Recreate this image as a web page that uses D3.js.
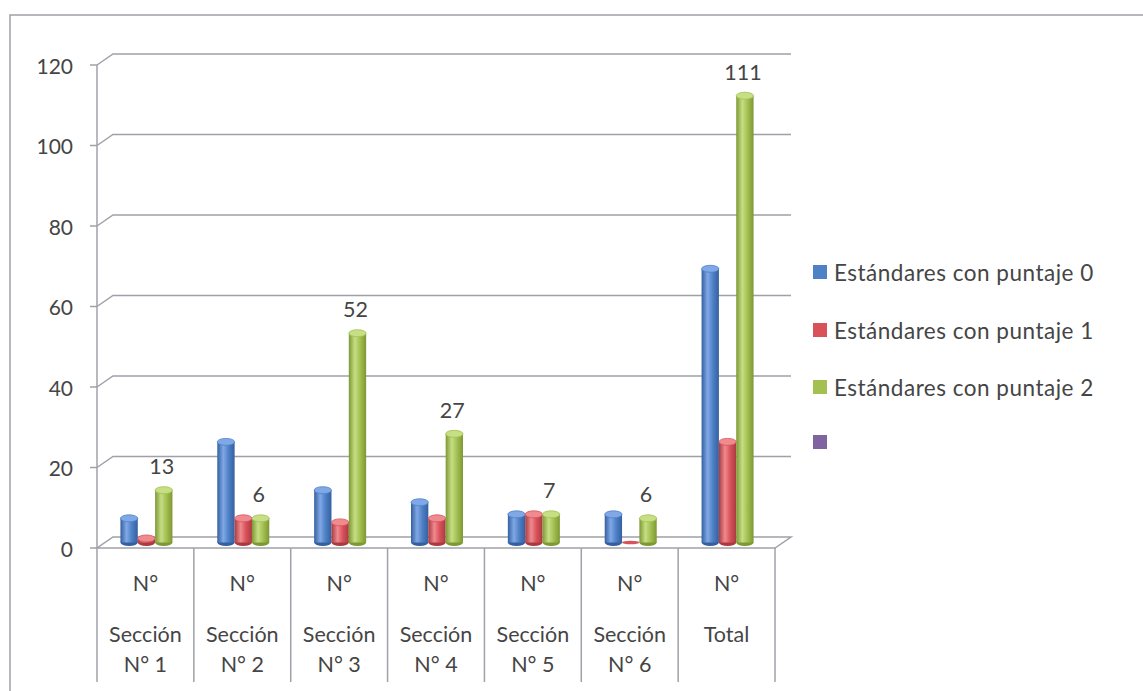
<!DOCTYPE html>
<html>
<head>
<meta charset="utf-8">
<script src="https://cdn.jsdelivr.net/npm/d3@7"></script>
<style>
  html, body { margin: 0; padding: 0; background: #ffffff; }
  svg { display: block; }
  text { font-family: Lato, "Open Sans", sans-serif; fill: #454545; }
</style>
</head>
<body>
<svg id="chart" width="1143" height="691"></svg>
<script>
// ---- data ----
const categories = ["Sección N° 1", "Sección N° 2", "Sección N° 3", "Sección N° 4", "Sección N° 5", "Sección N° 6", "Total"];
const categoryLines = [
  ["N°", "Sección", "N° 1"],
  ["N°", "Sección", "N° 2"],
  ["N°", "Sección", "N° 3"],
  ["N°", "Sección", "N° 4"],
  ["N°", "Sección", "N° 5"],
  ["N°", "Sección", "N° 6"],
  ["N°", "Total"]
];
const seriesNames = ["Estándares con puntaje 0", "Estándares con puntaje 1", "Estándares con puntaje 2", ""];
const puntaje0 = [6, 25, 13, 10, 7, 7, 68];
const puntaje1 = [1, 6, 5, 6, 7, 0, 25];
const puntaje2 = [13, 6, 52, 27, 7, 6, 111];
const dataLabels = [13, 6, 52, 27, 7, 6, 111];
const yTicks = [0, 20, 40, 60, 80, 100, 120];

const seriesValues = [puntaje0, puntaje1, puntaje2];
const colors = ["#4f81c6", "#d9525a", "#a3c051", "#8064a2"];
const colorsDark = ["#34609f", "#a93a40", "#7d9834"];
const colorsLight = ["#80a8e6", "#ef8a8f", "#c6de84"];

// ---- layout ----
const svg = d3.select("#chart");
const x0 = 97, x1 = 775;
const depthX = 16, depthY = -11;
const y = d3.scaleLinear().domain([0, 120]).range([548, 65]);
const xCat = d3.scaleBand().domain(categories).range([x0, x1]).padding(0);
const xSer = d3.scaleBand().domain([0, 1, 2]).range([0, 52]).padding(0);

// gradients
const defs = svg.append("defs");
[0, 1, 2].forEach(i => {
  const g = defs.append("linearGradient").attr("id", "grad" + i)
    .attr("x1", "0%").attr("x2", "100%").attr("y1", "0%").attr("y2", "0%");
  g.append("stop").attr("offset", "0%").attr("stop-color", colorsDark[i]);
  g.append("stop").attr("offset", "35%").attr("stop-color", colorsLight[i]);
  g.append("stop").attr("offset", "65%").attr("stop-color", colors[i]);
  g.append("stop").attr("offset", "100%").attr("stop-color", colorsDark[i]);
});

// outer frame
svg.append("path").attr("d", "M10,691 L10,15 L1143,15")
  .attr("fill", "none").attr("stroke", "#a0a0a8").attr("stroke-width", 1.5);

const grid = svg.append("g");
// floor
grid.append("path")
  .attr("d", `M${x0},${y(0)} L${x1},${y(0)} L${x1 + depthX},${y(0) + depthY} L${x0 + depthX},${y(0) + depthY} Z`)
  .attr("fill", "#ffffff").attr("stroke", "#a0a0a8").attr("stroke-width", 1.5);

// gridlines on back wall (with diagonal from axis)
yTicks.filter(t => t > 0).forEach(t => {
  grid.append("path")
    .attr("d", `M${x0},${y(t)} L${x0 + depthX},${y(t) + depthY} L${x1 + depthX},${y(t) + depthY}`)
    .attr("fill", "none").attr("stroke", "#a0a0a8").attr("stroke-width", 1.5);
});

// y axis line + ticks
grid.append("line").attr("x1", x0).attr("x2", x0).attr("y1", y(120)).attr("y2", 682)
  .attr("stroke", "#a0a0a8").attr("stroke-width", 1.5);
yTicks.forEach(t => {
  grid.append("line").attr("x1", x0 - 7).attr("x2", x0).attr("y1", y(t)).attr("y2", y(t))
    .attr("stroke", "#a0a0a8").attr("stroke-width", 1.5);
  svg.append("text").attr("x", 73).attr("y", y(t)).attr("text-anchor", "end")
    .attr("dominant-baseline", "central").attr("font-size", 21).text(t);
});

// category dividers
categories.forEach((c, i) => {
  const xr = xCat(c) + xCat.bandwidth();
  grid.append("line").attr("x1", xr).attr("x2", xr).attr("y1", y(0)).attr("y2", 682)
    .attr("stroke", "#a0a0a8").attr("stroke-width", 1.5);
});

// category labels
const lineY = [583, 634, 664];
categories.forEach((c, i) => {
  const cx = xCat(c) + xCat.bandwidth() / 2;
  categoryLines[i].forEach((ln, j) => {
    svg.append("text").attr("x", cx).attr("y", lineY[j]).attr("text-anchor", "middle")
      .attr("dominant-baseline", "central").attr("font-size", 21.5).text(ln);
  });
});

// bars (cylinders), placed at mid-depth
const bars = svg.append("g");
const midDX = depthX / 2, midDY = depthY / 2;
const bw = xSer.bandwidth();
const ry = 3.5;
categories.forEach((c, ci) => {
  const gx = xCat(c) + (xCat.bandwidth() - 52) / 2 + midDX - 7;
  [0, 1, 2].forEach(si => {
    const v = seriesValues[si][ci];
    const bx = gx + xSer(si);
    const yb = y(0) + midDY;
    const yt = y(v) + midDY;
    const g = bars.append("g");
    if (v === 0) {
      g.append("ellipse").attr("cx", bx + bw / 2).attr("cy", yb).attr("rx", bw / 2).attr("ry", 1.8)
        .attr("fill", colors[si]);
      return;
    }
    g.append("ellipse").attr("cx", bx + bw / 2).attr("cy", yb).attr("rx", bw / 2).attr("ry", ry)
      .attr("fill", colorsDark[si]);
    g.append("rect").attr("x", bx).attr("y", yt).attr("width", bw).attr("height", Math.max(0, yb - yt))
      .attr("fill", `url(#grad${si})`);
    g.append("ellipse").attr("cx", bx + bw / 2).attr("cy", yt).attr("rx", bw / 2).attr("ry", ry)
      .attr("fill", colorsLight[si]).attr("stroke", colors[si]).attr("stroke-width", 0.8);
  });
  // data label above green bar
  const gxGreen = gx + xSer(2) + bw / 2;
  svg.append("text").attr("x", gxGreen - 2).attr("y", y(dataLabels[ci]) + midDY - 24)
    .attr("text-anchor", "middle").attr("dominant-baseline", "central")
    .attr("font-size", 21.5).text(dataLabels[ci]);
});

// legend
const legY = [272, 330, 387, 442];
seriesNames.forEach((n, i) => {
  svg.append("rect").attr("x", 813).attr("y", legY[i] - 7).attr("width", 14).attr("height", 14)
    .attr("fill", colors[i]);
  svg.append("text").attr("x", 834).attr("y", legY[i]).attr("dominant-baseline", "central")
    .attr("font-size", 22.5).attr("letter-spacing", 0.5).text(n);
});
</script>
</body>
</html>
